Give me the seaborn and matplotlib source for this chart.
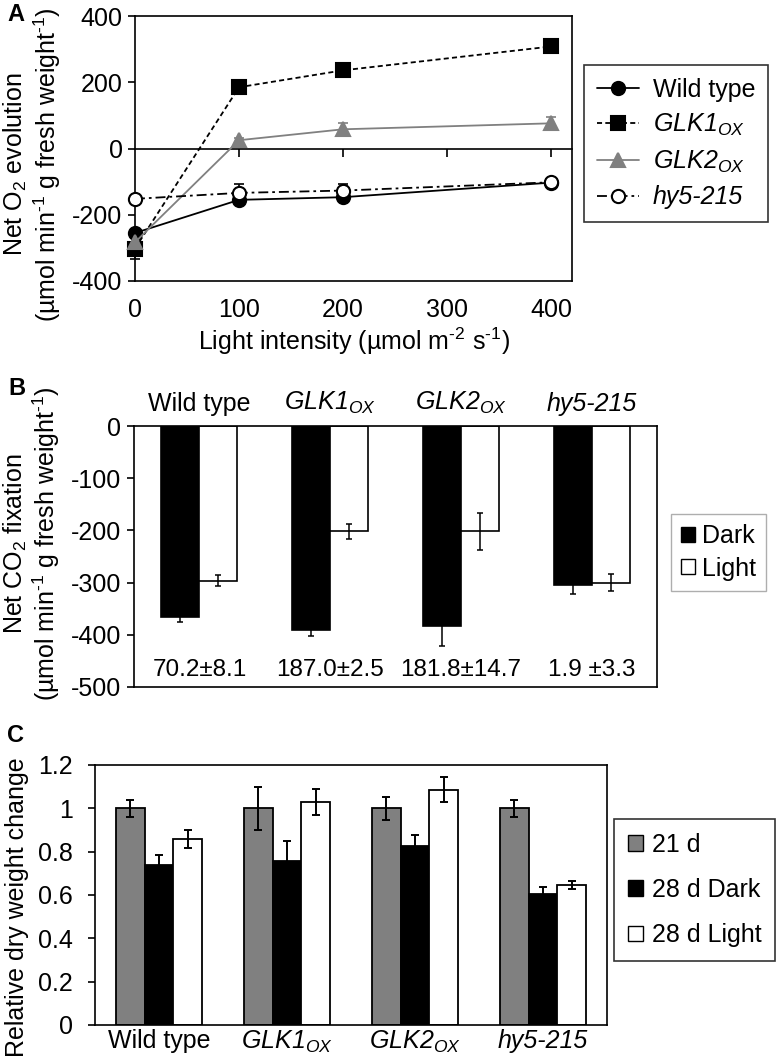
import numpy as np
import pandas as pd
import matplotlib
matplotlib.use('Agg')
from matplotlib import pyplot as plt
from matplotlib.patches import Patch
from matplotlib.ticker import FuncFormatter
import seaborn as sns

# ---------------- data ----------------
# A: net O2 evolution vs light intensity
light = [0, 100, 200, 400]
o2_wt = [-255, -155, -147, -103]
o2_wt_err = [8, 8, 8, 6]
o2_glk1 = [-302, 185, 236, 308]
o2_glk1_err = [32, 10, 10, 18]
o2_glk2 = [-283, 25, 58, 76]
o2_glk2_err = [15, 8, 18, 18]
o2_hy5 = [-152, -134, -127, -102]
o2_hy5_err = [5, 27, 20, 8]

# B: net CO2 fixation
strains = ['Wild type', 'GLK1ox', 'GLK2ox', 'hy5-215']
strain_labels = ['Wild type', r'GLK1$_{\mathit{OX}}$',
                 r'GLK2$_{\mathit{OX}}$', 'hy5-215']
co2_dark = [-366, -390, -384, -305]
co2_dark_err = [9, 13, 38, 16]
co2_light = [-296, -202, -202, -300]
co2_light_err = [10, 15, 36, 17]
b_notes = ['70.2\u00b18.1', '187.0\u00b12.5', '181.8\u00b114.7', '1.9 \u00b13.3']

# C: relative dry weight change
dw_21 = [1.0, 1.0, 1.0, 1.0]
dw_21_err = [0.04, 0.10, 0.054, 0.04]
dw_28dark = [0.738, 0.758, 0.827, 0.605]
dw_28dark_err = [0.047, 0.09, 0.05, 0.033]
dw_28light = [0.858, 1.03, 1.085, 0.646]
dw_28light_err = [0.04, 0.06, 0.058, 0.02]

# ---------------- style ----------------
sns.set_style('ticks')
plt.rcParams['font.family'] = ['Liberation Sans', 'DejaVu Sans']
plt.rcParams['mathtext.fontset'] = 'custom'
plt.rcParams['mathtext.rm'] = 'Liberation Sans'
plt.rcParams['mathtext.it'] = 'Liberation Sans:italic'
plt.rcParams['mathtext.bf'] = 'Liberation Sans:bold'
plt.rcParams['axes.unicode_minus'] = False
plt.rcParams['axes.linewidth'] = 1.2
plt.rcParams['axes.edgecolor'] = 'black'
plt.rcParams['xtick.color'] = 'black'
plt.rcParams['ytick.color'] = 'black'
plt.rcParams['text.color'] = 'black'
plt.rcParams['axes.labelcolor'] = 'black'
FS = 18
UNIT = '(\u00b5mol min$^{\\text{-}1}$ g fresh weight$^{\\text{-}1}$)'

W, H = 780, 1064
fig = plt.figure(figsize=(W / 100, H / 100), dpi=100)


def box(l, t, r, b):
    return [l / W, 1 - b / H, (r - l) / W, (b - t) / H]


def italicise(texts):
    for t in texts:
        if t.get_text() != 'Wild type':
            t.set_fontstyle('italic')


axA = fig.add_axes(box(135, 16, 572, 281))
axB = fig.add_axes(box(134, 426, 657, 687))
axC = fig.add_axes(box(95, 765, 607, 1025))

# ---------------- panel A ----------------
styles_a = [
    ('Wild type', o2_wt, o2_wt_err, 'black', 'o', 'black', '-'),
    (strain_labels[1], o2_glk1, o2_glk1_err, 'black', 's', 'black', (0, (2.8, 1.8))),
    (strain_labels[2], o2_glk2, o2_glk2_err, '#808080', '^', '#808080', '-'),
    ('hy5-215', o2_hy5, o2_hy5_err, 'black', 'o', 'white', (0, (5.5, 2.2, 1.5, 2.2))),
]
for lab, vals, err, col, mk, fc, ls in styles_a:
    axA.errorbar(light, vals, yerr=err, fmt='none', ecolor=col, elinewidth=1.2,
                 capsize=3.5, capthick=1.2, clip_on=False, zorder=2)
    sns.lineplot(x=light, y=vals, ax=axA, color=col, marker=mk, markersize=9.5,
                 markerfacecolor=fc, markeredgecolor=col, markeredgewidth=1.5,
                 linestyle=ls, linewidth=1.3, label=lab, clip_on=False, zorder=3)

axA.set_xlim(0, 420)
axA.set_ylim(-400, 400)
axA.set_yticks([-400, -200, 0, 200, 400])
axA.set_xticks([0, 100, 200, 300, 400])
axA.tick_params(axis='x', length=0, pad=12, labelsize=FS)
axA.tick_params(axis='y', direction='out', length=5, width=1.2, pad=4, labelsize=FS)
for s in axA.spines.values():
    s.set_visible(True)
zero = axA.secondary_xaxis(0, transform=axA.transData)
zero.set_xticks([100, 200, 300, 400])
zero.tick_params(axis='x', direction='out', length=6, width=1.2, labelbottom=False)
zero.spines['bottom'].set_linewidth(1.2)
axA.set_xlabel('Light intensity (\u00b5mol m$^{\\text{-}2}$ s$^{\\text{-}1}$)',
               fontsize=FS, labelpad=3)
axA.set_ylabel('Net O$_2$ evolution\n' + UNIT, fontsize=FS, linespacing=1.1)
axA.yaxis.set_label_coords(-0.165, 0.44)
legA = axA.legend(loc='upper left', bbox_to_anchor=(584 / W, 1 - 65 / H),
                  bbox_transform=fig.transFigure, frameon=True, fancybox=False,
                  edgecolor='black', fontsize=FS, handlelength=1.7, handletextpad=0.55,
                  labelspacing=0.42, borderpad=0.5, borderaxespad=0)
legA.get_frame().set_linewidth(1.2)
italicise(legA.get_texts())

# ---------------- panel B ----------------
df_b = pd.DataFrame({'strain': strains * 2,
                     'cond': ['Dark'] * 4 + ['Light'] * 4,
                     'val': co2_dark + co2_light})
sns.barplot(data=df_b, x='strain', y='val', hue='cond', order=strains,
            hue_order=['Dark', 'Light'], palette=['black', 'white'],
            edgecolor='black', linewidth=1.2, width=0.58, errorbar=None,
            legend=False, ax=axB)
for cont, vals, err in zip(axB.containers, [co2_dark, co2_light], [co2_dark_err, co2_light_err]):
    xs = [b.get_x() + b.get_width() / 2 for b in cont]
    axB.errorbar(xs, vals, yerr=err, fmt='none', ecolor='black', elinewidth=1.1,
                 capsize=2.5, capthick=1.1, zorder=4)
for i, note in enumerate(b_notes):
    axB.text(i, -468, note, ha='center', va='center', fontsize=17.5)
axB.set_xlim(-0.5, 3.5)
axB.set_ylim(-500, 0)
axB.set_yticks([0, -100, -200, -300, -400, -500])
axB.xaxis.tick_top()
axB.set_xticks(range(4))
axB.set_xticklabels(strain_labels)
axB.tick_params(axis='x', length=0, pad=7, labelsize=FS)
axB.tick_params(axis='y', direction='out', length=5, width=1.2, pad=4, labelsize=FS)
italicise(axB.get_xticklabels())
for s in axB.spines.values():
    s.set_visible(True)
axB.set_xlabel('')
axB.set_ylabel('Net CO$_2$ fixation\n' + UNIT, fontsize=FS, linespacing=1.1)
axB.yaxis.set_label_coords(-0.137, 0.55)
legB = axB.legend(handles=[Patch(facecolor='black', edgecolor='black', linewidth=1),
                           Patch(facecolor='white', edgecolor='black', linewidth=1)],
                  labels=['Dark', 'Light'], loc='upper left',
                  bbox_to_anchor=(671 / W, 1 - 514 / H), bbox_transform=fig.transFigure,
                  frameon=True, fancybox=False, edgecolor='#9a9a9a', fontsize=FS,
                  handlelength=0.55, handleheight=0.55, handletextpad=0.3,
                  labelspacing=0.35, borderpad=0.4, borderaxespad=0)
legB.get_frame().set_linewidth(1.0)

# ---------------- panel C ----------------
cond_c = ['21 d', '28 d Dark', '28 d Light']
df_c = pd.DataFrame({'strain': strains * 3,
                     'cond': [c for c in cond_c for _ in strains],
                     'val': dw_21 + dw_28dark + dw_28light})
sns.barplot(data=df_c, x='strain', y='val', hue='cond', order=strains,
            hue_order=cond_c, palette=['#808080', 'black', 'white'],
            edgecolor='black', linewidth=1.3, width=0.675, errorbar=None,
            legend=False, ax=axC)
for cont, vals, err in zip(axC.containers, [dw_21, dw_28dark, dw_28light],
                           [dw_21_err, dw_28dark_err, dw_28light_err]):
    xs = [b.get_x() + b.get_width() / 2 for b in cont]
    axC.errorbar(xs, vals, yerr=err, fmt='none', ecolor='black', elinewidth=1.4,
                 capsize=3, capthick=1.4, zorder=4)
axC.set_xlim(-0.5, 3.5)
axC.set_ylim(0, 1.2)
axC.set_yticks([0, 0.2, 0.4, 0.6, 0.8, 1.0, 1.2])
axC.yaxis.set_major_formatter(FuncFormatter(lambda v, p: '%g' % v))
axC.set_xticks(range(4))
axC.set_xticklabels(strain_labels)
axC.tick_params(axis='x', length=0, pad=3, labelsize=FS)
axC.tick_params(axis='y', direction='out', length=5, width=1.2, pad=11, labelsize=FS)
italicise(axC.get_xticklabels())
for s in axC.spines.values():
    s.set_visible(True)
axC.set_xlabel('')
axC.set_ylabel('Relative dry weight change', fontsize=FS)
axC.yaxis.set_label_coords(-0.128, 0.455)
legC = axC.legend(handles=[Patch(facecolor=c, edgecolor='black', linewidth=1)
                           for c in ['#808080', 'black', 'white']],
                  labels=cond_c, loc='upper left',
                  bbox_to_anchor=(614 / W, 1 - 819 / H), bbox_transform=fig.transFigure,
                  frameon=True, fancybox=False, edgecolor='black', fontsize=FS,
                  handlelength=0.6, handleheight=0.6, handletextpad=0.35,
                  labelspacing=0.85, borderpad=0.55, borderaxespad=0)
legC.get_frame().set_linewidth(1.2)

# panel letters
fig.text(7 / W, 1 - 3 / H, 'A', fontsize=17, fontweight='bold', va='top', ha='left')
fig.text(8 / W, 1 - 377 / H, 'B', fontsize=17, fontweight='bold', va='top', ha='left')
fig.text(7 / W, 1 - 724 / H, 'C', fontsize=17, fontweight='bold', va='top', ha='left')

fig.savefig('out.png', dpi=100)
